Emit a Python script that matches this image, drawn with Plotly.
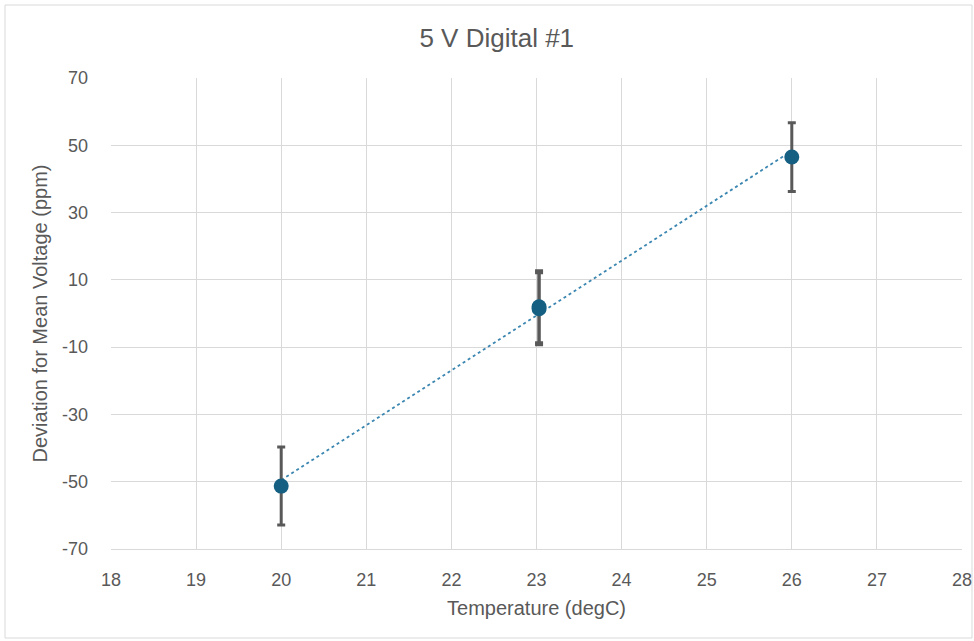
import numpy as np
import plotly.graph_objects as go

# Measurements: temperature (degC), deviation of mean voltage (ppm), uncertainty (ppm)
temperature = [20.0, 23.03, 23.03, 26.0]
deviation = [-51.3, 2.0, 1.4, 46.5]
uncertainty = [11.6, 10.7, 10.7, 10.2]

x_ticks = [18, 19, 20, 21, 22, 23, 24, 25, 26, 27, 28]
y_ticks = [-70, -50, -30, -10, 10, 30, 50, 70]
y_tick_text = ["-70", "-50", "-30", "-10", "10", "30", "50", "70"]

# Linear trendline through the measurements
slope, intercept = np.polyfit(temperature, deviation, 1)
trend_x = [min(temperature), max(temperature)]
trend_y = [slope * t + intercept for t in trend_x]

W, H = 974, 641
ml, mr, mt, mb = 111, 12, 78, 92
pw, ph = W - ml - mr, H - mt - mb

fig = go.Figure()

fig.add_trace(go.Scatter(
    x=trend_x, y=trend_y, mode="lines",
    line=dict(color="#3a86b0", width=1.8, dash="dot"),
    hoverinfo="skip", showlegend=False,
))

fig.add_trace(go.Scatter(
    x=temperature, y=deviation, mode="markers",
    marker=dict(color="#156082", size=15, line=dict(width=0)),
    error_y=dict(type="data", array=uncertainty, visible=True,
                 color="#595959", thickness=3, width=4),
    showlegend=False,
))

# Outer chart border
fig.add_shape(type="rect", xref="paper", yref="paper",
              x0=(5 - ml) / pw, x1=(W - 2 - ml) / pw,
              y0=-(H - 3 - mt - ph) / ph,
              y1=1 + (mt - 5) / ph,
              line=dict(color="#d9d9d9", width=1), layer="below")

fig.update_layout(
    width=W, height=H,
    margin=dict(l=ml, r=mr, t=mt, b=mb),
    paper_bgcolor="white", plot_bgcolor="white",
    title=dict(text="5 V Digital #1", x=0.51, xref="container", y=1 - 38 / H,
               yref="container", yanchor="middle",
               font=dict(family="Liberation Sans, Arial, sans-serif",
                         size=26, color="#595959")),
    xaxis=dict(range=[18, 28], tickvals=x_ticks, showgrid=True,
               gridcolor="#d9d9d9", gridwidth=1, zeroline=False,
               showline=True, linecolor="#d9d9d9", automargin=False,
               ticks="", ticklabelstandoff=14,
               tickfont=dict(family="Liberation Sans, Arial, sans-serif",
                             size=18, color="#595959"),
               title=dict(text="Temperature (degC)", standoff=12,
                          font=dict(family="Liberation Sans, Arial, sans-serif",
                                    size=20, color="#595959"))),
    yaxis=dict(range=[-70, 70], tickvals=y_ticks, ticktext=y_tick_text,
               showgrid=True, automargin=False,
               gridcolor="#d9d9d9", gridwidth=1, zeroline=False,
               showline=False, ticks="", ticklabelstandoff=22,
               tickfont=dict(family="Liberation Sans, Arial, sans-serif",
                             size=18, color="#595959"),
               title=dict(text="Deviation for Mean Voltage (ppm)", standoff=8,
                          font=dict(family="Liberation Sans, Arial, sans-serif",
                                    size=20, color="#595959"))),
)

fig.write_html("out.html")
